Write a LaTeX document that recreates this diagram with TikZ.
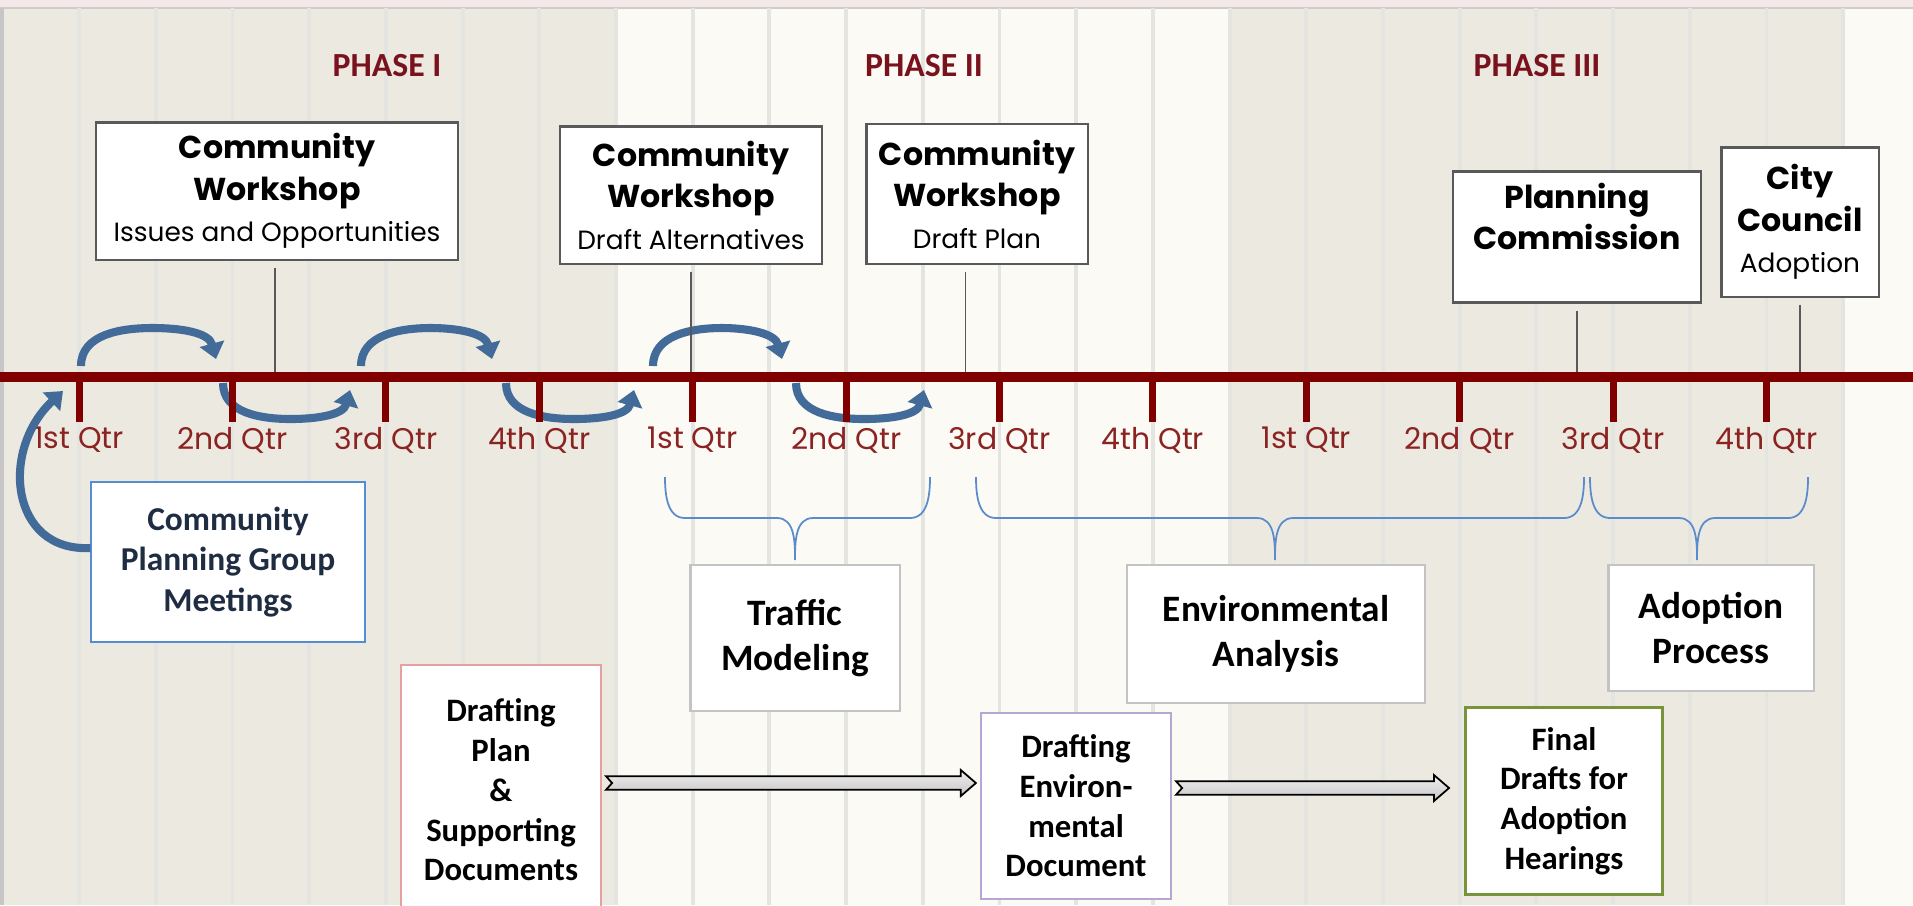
\documentclass[tikz,border=0pt]{standalone}
\usepackage{fontspec}
\setmainfont{Poppins}
\newfontfamily\calib{Carlito}
\usetikzlibrary{arrows.meta,calc}

\definecolor{bgbeige}{RGB}{236,234,224}
\definecolor{bglight}{RGB}{252,250,244}
\definecolor{gridcol}{RGB}{228,228,225}
\definecolor{topstrip}{RGB}{245,232,232}
\definecolor{tlred}{RGB}{128,0,0}
\definecolor{qtrred}{RGB}{140,35,35}
\definecolor{phasered}{RGB}{122,18,30}
\definecolor{arcblue}{RGB}{66,107,153}
\definecolor{braceblue}{RGB}{91,139,204}
\definecolor{boxgray}{RGB}{89,89,89}
\definecolor{taskgray}{RGB}{195,195,195}
\definecolor{cpgblue}{RGB}{84,141,212}
\definecolor{cpgtext}{RGB}{31,45,66}
\definecolor{dppink}{RGB}{229,160,160}
\definecolor{depurple}{RGB}{180,167,214}
\definecolor{fdgreen}{RGB}{119,147,60}

\tikzset{
  wsbox/.style={draw=boxgray, line width=0.6pt, fill=white, align=center, inner sep=0pt,
    font=\fontsize{9}{11.8}\selectfont\bfseries},
  tasknode/.style={draw=taskgray, line width=0.6pt, fill=white, align=center, inner sep=0pt,
    font=\calib\bfseries\fontsize{10.6}{12.8}\selectfont},
  docnode/.style={fill=white, line width=0.6pt, align=center, inner sep=0pt,
    font=\calib\bfseries\fontsize{9.3}{11.3}\selectfont},
  qtr/.style={text=qtrred, font=\fontsize{8.5}{10}\selectfont},
  phaselabel/.style={text=phasered, font=\calib\bfseries\fontsize{9.6}{11}\selectfont},
  cyclearrow/.style={draw=arcblue, line width=2.3pt, -{Triangle[width=7pt,length=4.5pt]}},
  pinline/.style={draw=boxgray, line width=0.4pt},
  qbrace/.style={draw=braceblue, line width=0.5pt},
  qtick/.style={draw=tlred, line width=2pt},
  blockarrow/.style={draw=black, line width=0.5pt, top color=gray!12, bottom color=gray!45},
}

\begin{document}
\begin{tikzpicture}[x=0.01cm, y=-0.01cm]
  \useasboundingbox (0,0) rectangle (1913,905);

  % background bands, one per phase
  \fill[topstrip] (0,0) rectangle (1913,8);
  \fill[bgbeige] (0,8) rectangle (616,905);
  \fill[bglight] (616,8) rectangle (1230,905);
  \fill[bgbeige] (1230,8) rectangle (1843,905);
  \fill[bglight] (1843,8) rectangle (1913,905);
  \draw[gray!40, line width=0.5pt] (0,8) -- (1913,8);
  \foreach \k in {1,...,24}
    \draw[gridcol, line width=1.1pt] ({2.4+76.7*\k},8) -- ({2.4+76.7*\k},905);
  \fill[gray!45] (0,8) rectangle (4,905);

  \node[phaselabel] (ph1) at (387,66) {PHASE I};
  \node[phaselabel] (ph2) at (924,66) {PHASE II};
  \node[phaselabel] (ph3) at (1537,66) {PHASE III};

  % loops over the timeline
  \foreach \a/\b in {81/216, 361/492, 653/782}
    \draw[cyclearrow] (\a,366) to[out=90,in=180] ({0.5*\a+0.5*\b+4},328) to[out=0,in=105] (\b,359);
  \foreach \a/\b in {223/350, 506/634, 796/924}
    \draw[cyclearrow] (\a,383) to[out=-90,in=180] ({0.5*\a+0.5*\b+4},419) to[out=0,in=-105] (\b,390);

  % timeline
  \draw[tlred, line width=2.9pt] (0,377) -- (1913,377);
  \coordinate (tl) at (0,372);
  \foreach \q [count=\i] in {1st,2nd,3rd,4th,1st,2nd,3rd,4th,1st,2nd,3rd,4th} {
    \draw[qtick] ({2.4+76.7*(2*\i-1)},377) -- ++(0,45);
    \node[qtr] (q\i) at ({2.4+76.7*(2*\i-1)},440) {\q\ Qtr};
  }

  % milestones above the line
  \node[wsbox, minimum width=3.62cm, minimum height=1.37cm] (cw1) at (277,191)
    {Community\\Workshop\\{\fontsize{7.5}{9}\selectfont\mdseries Issues and Opportunities}};
  \node[wsbox, minimum width=2.62cm, minimum height=1.37cm] (cw2) at (691,195)
    {Community\\Workshop\\{\fontsize{7.5}{9}\selectfont\mdseries Draft Alternatives}};
  \node[wsbox, minimum width=2.21cm, minimum height=1.4cm] (cw3) at (977,194)
    {Community\\Workshop\\{\fontsize{7.5}{9}\selectfont\mdseries Draft Plan}};
  \node[wsbox, minimum width=2.48cm, minimum height=1.31cm] (pc) at (1577,237)
    {Planning\\Commission\\\mbox{}};
  \node[wsbox, minimum width=1.57cm, minimum height=1.49cm] (cc) at (1800,222)
    {City\\Council\\{\fontsize{7.5}{9}\selectfont\mdseries Adoption}};

  \foreach \n/\dx in {cw1/-0.02, cw2/0, cw3/-0.115, pc/0, cc/0} {
    \path ([xshift=\dx cm]\n.south) coordinate (foot);
    \draw[pinline] ([yshift=-0.07cm]foot) -- (foot |- tl);
  }

  % meetings and tasks below the line
  \node[docnode, draw=cpgblue, text=cpgtext, minimum width=2.73cm, minimum height=1.6cm,
    font=\calib\bfseries\fontsize{9.5}{11.4}\selectfont] (cpg) at (228,562)
    {Community\\Planning Group\\Meetings};
  \draw[cyclearrow] ([yshift=0.14cm]cpg.west) .. controls (10,552) and (0,450) .. (63,391);

  \node[tasknode, minimum width=2.09cm, minimum height=1.46cm] (tm) at (795,638) {Traffic\\Modeling};
  \node[tasknode, minimum width=2.97cm, minimum height=1.38cm] (ea) at (1276,634) {Environmental\\Analysis};
  \node[tasknode, minimum width=2.05cm, minimum height=1.26cm] (ap) at (1711,628) {Adoption\\Process};

  \foreach \l/\m/\r in {665/795/930, 976/1275/1584, 1590/1697/1808}
    \draw[qbrace] (\l,477) to[out=-90,in=180] (\l+20,518) -- (\m-18,518)
      to[out=0,in=90] (\m,560) to[out=90,in=180] (\m+18,518) -- (\r-20,518)
      to[out=0,in=-90] (\r,477);

  % documents
  \node[docnode, draw=dppink, minimum width=2cm, minimum height=2.5cm] (dp) at (501,790)
    {Drafting\\Plan\\\&\\Supporting\\Documents};
  \node[docnode, draw=depurple, minimum width=1.9cm, minimum height=1.86cm] (de) at (1076,806)
    {Drafting\\Environ-\\mental\\Document};
  \node[docnode, draw=fdgreen, line width=0.8pt, minimum width=1.97cm, minimum height=1.87cm] (fd) at (1564,801)
    {Final\\Drafts for\\Adoption\\Hearings};

  \foreach \a/\b/\yy/\g in {dp/de/783/4, de/fd/788/15}
    \draw[blockarrow] let \p1=($(\a.east)+(4,0)$), \p2=($(\b.west)+(-\g,0)$), \p3=(0,\yy) in
      (\x1,\y3+1.9pt) -- (\x2-4.3pt,\y3+1.9pt) -- (\x2-4.3pt,\y3+3.7pt) -- (\x2,\y3)
      -- (\x2-4.3pt,\y3-3.7pt) -- (\x2-4.3pt,\y3-1.9pt) -- (\x1,\y3-1.9pt) -- (\x1+1.7pt,\y3) -- cycle;
\end{tikzpicture}
\end{document}
